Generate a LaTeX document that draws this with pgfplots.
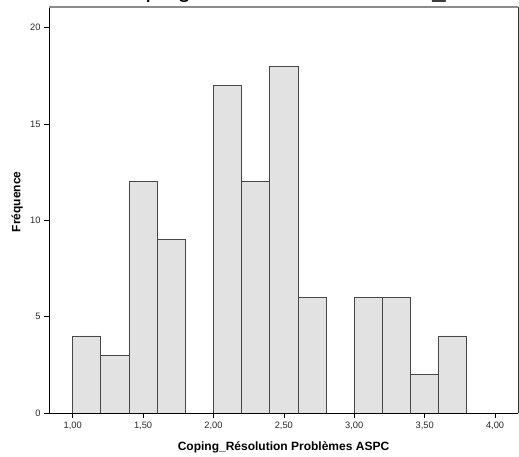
\documentclass[border=0pt]{standalone}
\usepackage{pgfplots}
\pgfplotsset{compat=1.18}
\usepackage{fontspec}
\setmainfont{Liberation Sans}
\definecolor{barfill}{HTML}{E2E2E2}
\definecolor{baredge}{HTML}{474747}
\begin{document}
\begin{tikzpicture}[x=1pt,y=1pt]
\useasboundingbox (0,0) rectangle (519,457);
\begin{axis}[
  at={(49pt,44pt)}, anchor=south west,
  scale only axis, width=469pt, height=406pt,
  xmin=0.832, xmax=4.163, ymin=0, ymax=21.08,
  clip=false,
  axis line style={draw=none},
  tick align=outside, xtick pos=bottom, ytick pos=left,
  major tick length=5pt,
  every tick/.style={black, line width=0.6pt},
  xtick={1,1.5,2,2.5,3,3.5,4},
  ytick={0,5,10,15,20},
  /pgf/number format/assume math mode=true,
  xticklabel={\pgfmathprintnumber[fixed,fixed zerofill,precision=2,use comma]{\tick}},
  yticklabel={\pgfmathprintnumber[fixed,precision=0]{\tick}},
  ticklabel style={font=\fontsize{9.3}{10}\selectfont, text=black!85},
  xlabel={Coping\_Résolution Problèmes ASPC},
  ylabel={Fréquence},
  label style={font=\bfseries\fontsize{12}{13}\selectfont},
  xlabel style={at={(axis description cs:0.5,-0.0837)}, anchor=center},
  ylabel style={at={(axis description cs:-0.068,0.52)}, anchor=center},
]
\addplot[ybar, bar width=0.2, bar shift=0pt, fill=barfill, draw=baredge, line width=0.8pt]
  coordinates {(1.1,4) (1.3,3) (1.5,12) (1.7,9) (2.1,17) (2.3,12) (2.5,18) (2.7,6)
               (3.1,6) (3.3,6) (3.5,2) (3.7,4)};
\draw[black, line width=0.8pt] (rel axis cs:0,1) -- (rel axis cs:0,0) -- (rel axis cs:1,0);
\draw[black!45, line width=1.3pt] (rel axis cs:0,1) -- (rel axis cs:1,1);
\draw[black!80, line width=0.8pt] (rel axis cs:1,0) -- (rel axis cs:1,1);
\end{axis}
\node[anchor=base west, font=\fontsize{24}{28}\selectfont, inner sep=0pt] at (114.7,459.3) {Coping Résolution Problèmes\_ASPC};
\end{tikzpicture}
\end{document}
